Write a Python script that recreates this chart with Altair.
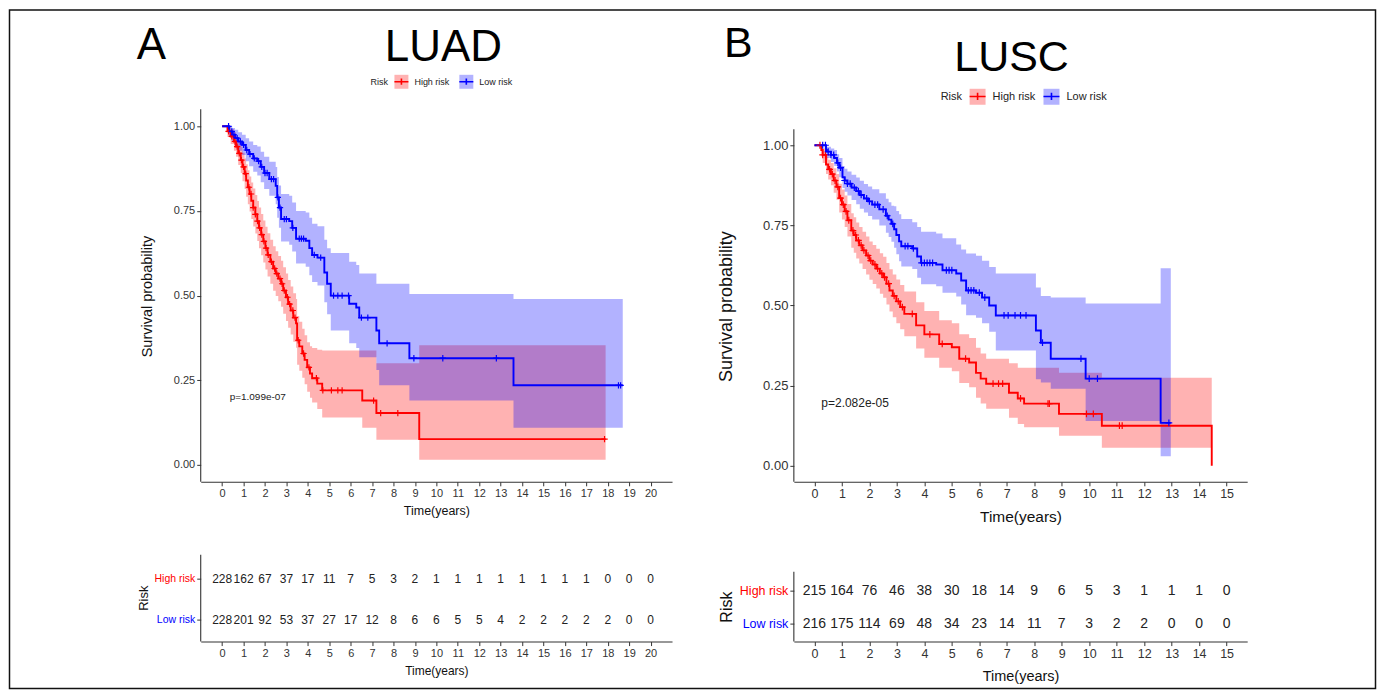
import altair as alt
import numpy as np
import pandas as pd

FONT = "Liberation Sans"
RED = "#FF0000"
BLUE = "#0000FF"
GROUPS = ["High risk", "Low risk"]
FILL_RANGE = ["rgba(255,0,0,0.3)", "rgba(0,0,255,0.3)"]
CROSS = "M-1,0H1M0,-1V1"
LEG_LINE = "M-1,0H1M0,-0.45V0.45"

# ---------------- LUAD ----------------
luad_high_t = [0, 0.25, 0.4, 0.55, 0.65, 0.75, 0.87, 0.95, 1.05, 1.12, 1.2, 1.28, 1.36, 1.45, 1.55,
               1.64, 1.72, 1.82, 1.92, 2.02, 2.12, 2.25, 2.38, 2.5, 2.62, 2.75, 2.85, 2.98, 3.08, 3.2,
               3.32, 3.45, 3.5, 3.6, 3.74, 3.85, 3.97, 4.1, 4.2, 4.44, 4.67, 6.54, 7.2, 9.2, 17.9]
luad_high_s = [1.0, 0.985, 0.97, 0.955, 0.94, 0.92, 0.9, 0.88, 0.86, 0.84, 0.82, 0.8, 0.78, 0.76, 0.74,
               0.72, 0.70, 0.68, 0.66, 0.64, 0.62, 0.60, 0.58, 0.565, 0.55, 0.535, 0.515, 0.495, 0.475, 0.456,
               0.435, 0.418, 0.368, 0.35, 0.329, 0.31, 0.288, 0.27, 0.256, 0.24, 0.22, 0.19, 0.153, 0.076, 0.076]
luad_high_lo = [1.0, 0.968, 0.948, 0.928, 0.91, 0.886, 0.862, 0.838, 0.815, 0.792, 0.77, 0.748, 0.726, 0.704, 0.683,
                0.661, 0.64, 0.619, 0.598, 0.577, 0.556, 0.535, 0.514, 0.499, 0.483, 0.467, 0.446, 0.425, 0.405, 0.385,
                0.364, 0.346, 0.296, 0.278, 0.257, 0.238, 0.216, 0.198, 0.184, 0.165, 0.14, 0.11, 0.074, 0.015, 0.015]
luad_high_hi = [1.0, 1.0, 0.992, 0.982, 0.97, 0.955, 0.94, 0.922, 0.905, 0.888, 0.87, 0.852, 0.834, 0.816, 0.797,
                0.779, 0.76, 0.741, 0.722, 0.703, 0.684, 0.665, 0.646, 0.631, 0.617, 0.603, 0.584, 0.565, 0.546, 0.527,
                0.507, 0.49, 0.44, 0.423, 0.402, 0.383, 0.362, 0.35, 0.345, 0.34, 0.338, 0.338, 0.30, 0.353, 0.353]
luad_high_cens = [0.3, 0.45, 0.6, 0.7, 0.8, 0.9, 1.0, 1.1, 1.25, 1.35, 1.45, 1.55, 1.65, 1.75, 1.85, 1.95,
                  2.05, 2.15, 2.3, 2.45, 2.55, 2.7, 2.8, 2.9, 3.05, 3.15, 3.3, 3.4, 3.55, 3.8, 4.05, 4.4,
                  4.7, 5.1, 5.4, 5.6, 7.07, 7.4, 8.2, 17.85]

luad_low_t = [0, 0.33, 0.47, 0.6, 0.75, 0.93, 1.1, 1.26, 1.45, 1.64, 1.8, 1.96, 2.2, 2.5, 2.57, 2.65, 2.75,
              3.13, 3.27, 3.45, 3.9, 4.07, 4.2, 4.45, 4.77, 4.9, 5.07, 5.93, 6.26, 6.4, 7.2, 7.33, 8.74, 13.6, 18.7]
luad_low_s = [1.0, 0.985, 0.975, 0.965, 0.955, 0.945, 0.93, 0.918, 0.905, 0.897, 0.88, 0.862, 0.844, 0.824, 0.79,
              0.76, 0.726, 0.72, 0.70, 0.668, 0.662, 0.64, 0.62, 0.612, 0.568, 0.535, 0.5, 0.476, 0.465, 0.435,
              0.397, 0.359, 0.315, 0.235, 0.235]
luad_low_lo = [1.0, 0.97, 0.955, 0.942, 0.928, 0.915, 0.897, 0.882, 0.866, 0.855, 0.835, 0.815, 0.795, 0.77, 0.73,
               0.70, 0.66, 0.65, 0.63, 0.595, 0.585, 0.56, 0.54, 0.53, 0.48, 0.445, 0.397, 0.359, 0.345, 0.318,
               0.28, 0.235, 0.19, 0.11, 0.11]
luad_low_hi = [1.0, 1.0, 0.995, 0.99, 0.982, 0.975, 0.965, 0.955, 0.945, 0.94, 0.925, 0.91, 0.895, 0.88, 0.85,
               0.825, 0.80, 0.795, 0.775, 0.75, 0.745, 0.73, 0.712, 0.705, 0.665, 0.64, 0.626, 0.60, 0.59, 0.565,
               0.535, 0.535, 0.505, 0.49, 0.49]
luad_low_cens = [0.3, 0.45, 0.55, 0.7, 0.85, 1.0, 1.15, 1.3, 1.5, 1.7, 1.85, 2.0, 2.1, 2.3, 2.4, 2.6, 2.7,
                 2.9, 3.0, 3.3, 3.6, 3.7, 3.8, 4.3, 4.6, 5.2, 5.4, 5.6, 5.9, 6.5, 6.8, 7.7, 8.95, 10.3,
                 12.8, 18.5, 18.6]

luad_years = list(range(0, 21))
luad_high_n = [228, 162, 67, 37, 17, 11, 7, 5, 3, 2, 1, 1, 1, 1, 1, 1, 1, 1, 0, 0, 0]
luad_low_n = [228, 201, 92, 53, 37, 27, 17, 12, 8, 6, 6, 5, 5, 4, 2, 2, 2, 2, 2, 0, 0]

# ---------------- LUSC ----------------
lusc_high_t = [0, 0.25, 0.3, 0.42, 0.5, 0.6, 0.7, 0.8, 0.9, 1.0, 1.1, 1.2, 1.34, 1.43, 1.52, 1.63, 1.75,
               1.88, 2.0, 2.12, 2.25, 2.38, 2.5, 2.62, 2.73, 2.85, 2.98, 3.12, 3.27, 3.7, 4.0, 4.54, 5.0,
               5.27, 5.63, 5.88, 6.05, 6.25, 7.08, 7.4, 7.63, 8.9, 10.46, 14.46]
lusc_high_s = [1.0, 0.985, 0.97, 0.94, 0.925, 0.91, 0.89, 0.87, 0.835, 0.815, 0.794, 0.766, 0.734, 0.72, 0.703,
               0.688, 0.672, 0.656, 0.64, 0.628, 0.615, 0.60, 0.588, 0.568, 0.547, 0.53, 0.513, 0.495, 0.474,
               0.438, 0.41, 0.38, 0.37, 0.334, 0.322, 0.29, 0.272, 0.256, 0.228, 0.21, 0.194, 0.162, 0.125, 0.0]
lusc_high_lo = [1.0, 0.965, 0.945, 0.91, 0.893, 0.875, 0.852, 0.83, 0.79, 0.768, 0.745, 0.715, 0.68, 0.665, 0.647,
                0.631, 0.614, 0.597, 0.58, 0.567, 0.553, 0.537, 0.524, 0.503, 0.481, 0.463, 0.445, 0.426, 0.404,
                0.366, 0.337, 0.306, 0.295, 0.258, 0.245, 0.212, 0.194, 0.178, 0.15, 0.13, 0.12, 0.094, 0.056, 0.056]
lusc_high_hi = [1.0, 1.0, 0.99, 0.965, 0.955, 0.945, 0.928, 0.91, 0.88, 0.862, 0.843, 0.817, 0.788, 0.775, 0.759,
                0.745, 0.73, 0.715, 0.70, 0.689, 0.677, 0.663, 0.652, 0.633, 0.613, 0.597, 0.581, 0.564, 0.544,
                0.51, 0.483, 0.454, 0.445, 0.41, 0.399, 0.368, 0.35, 0.334, 0.32, 0.306, 0.306, 0.29, 0.275, 0.275]
lusc_high_cens = [0.2, 0.3, 0.4, 0.55, 0.65, 0.75, 0.85, 0.95, 1.05, 1.15, 1.25, 1.4, 1.5, 1.6, 1.7, 1.8,
                  1.95, 2.05, 2.2, 2.3, 2.45, 2.55, 2.7, 2.9, 3.05, 3.2, 3.56, 4.2, 4.65, 5.5, 6.5, 6.7,
                  6.85, 7.5, 8.5, 8.55, 9.9, 10.15, 11.1, 11.2]

lusc_low_t = [0, 0.42, 0.45, 0.6, 0.72, 0.82, 0.9, 1.02, 1.1, 1.2, 1.35, 1.52, 1.65, 1.8, 1.95, 2.1, 2.36,
              2.6, 2.7, 2.8, 2.9, 2.98, 3.08, 3.16, 3.56, 3.74, 3.88, 4.43, 4.66, 5.16, 5.34, 5.52, 5.88,
              6.1, 6.36, 6.6, 8.06, 8.24, 8.6, 9.87, 12.6, 12.97]
lusc_low_s = [1.0, 0.985, 0.98, 0.97, 0.96, 0.945, 0.93, 0.9, 0.89, 0.88, 0.868, 0.857, 0.845, 0.834, 0.825,
              0.815, 0.8, 0.78, 0.768, 0.755, 0.738, 0.72, 0.70, 0.685, 0.678, 0.653, 0.633, 0.628, 0.61, 0.6,
              0.578, 0.547, 0.54, 0.525, 0.5, 0.469, 0.422, 0.384, 0.334, 0.272, 0.134, 0.134]
lusc_low_lo = [1.0, 0.965, 0.96, 0.948, 0.935, 0.918, 0.9, 0.867, 0.855, 0.843, 0.829, 0.816, 0.802, 0.79, 0.779,
               0.768, 0.75, 0.727, 0.714, 0.699, 0.68, 0.66, 0.638, 0.622, 0.614, 0.587, 0.566, 0.56, 0.54, 0.528,
               0.503, 0.47, 0.462, 0.445, 0.418, 0.36, 0.27, 0.26, 0.24, 0.14, 0.03, 0.03]
lusc_low_hi = [1.0, 1.0, 0.995, 0.99, 0.985, 0.972, 0.96, 0.935, 0.927, 0.918, 0.908, 0.899, 0.889, 0.879, 0.871,
               0.863, 0.85, 0.833, 0.822, 0.811, 0.81, 0.795, 0.785, 0.77, 0.76, 0.745, 0.73, 0.725, 0.71, 0.69,
               0.675, 0.662, 0.655, 0.64, 0.62, 0.60, 0.556, 0.53, 0.525, 0.506, 0.616, 0.616]
lusc_low_cens = [0.3, 0.4, 0.5, 0.6, 0.7, 0.85, 0.95, 1.1, 1.2, 1.3, 1.45, 1.6, 1.7, 1.9, 2.0, 2.2, 2.3,
                 2.5, 2.65, 2.85, 3.3, 3.4, 3.6, 3.9, 4.0, 4.1, 4.2, 4.3, 4.8, 4.9, 5.0, 5.6, 5.7, 5.8,
                 6.0, 6.2, 6.9, 7.05, 7.3, 7.5, 7.7, 8.3, 9.7, 10.0, 10.3, 12.9]

lusc_years = list(range(0, 16))
lusc_high_n = [215, 164, 76, 46, 38, 30, 18, 14, 9, 6, 5, 3, 1, 1, 1, 0]
lusc_low_n = [216, 175, 114, 69, 48, 34, 23, 14, 11, 7, 3, 2, 2, 0, 0, 0]


def curve_df(t, s, lo, hi, g):
    return pd.DataFrame({"time": t, "surv": s, "lower": lo, "upper": hi, "Risk": g, "Risk2": g})


def cens_df(t, s, c, g):
    t = np.asarray(t, float)
    s = np.asarray(s, float)
    c = np.asarray(c, float)
    idx = np.searchsorted(t, c, side="right") - 1
    return pd.DataFrame({"time": c, "surv": s[idx], "Risk2": g})


def km_panel(cfg):
    curves = pd.concat([
        curve_df(cfg["ht"], cfg["hs"], cfg["hlo"], cfg["hhi"], "High risk"),
        curve_df(cfg["lt"], cfg["ls"], cfg["llo"], cfg["lhi"], "Low risk"),
    ], ignore_index=True)
    cens = pd.concat([
        cens_df(cfg["ht"], cfg["hs"], cfg["hc"], "High risk"),
        cens_df(cfg["lt"], cfg["ls"], cfg["lc"], "Low risk"),
    ], ignore_index=True)
    w, h = cfg["w"], cfg["h"]
    fs = cfg["fs"]
    xs = alt.Scale(domain=cfg["xdom"], nice=False, zero=False)
    ys = alt.Scale(domain=cfg["ydom"], nice=False, zero=False)
    xaxis = alt.Axis(values=cfg["xticks"], title="Time(years)", labelFontSize=fs["tick"],
                     titleFontSize=fs["title"], titleX=w / 2, titleY=cfg["xtitle_y"],
                     titleBaseline="middle", titleAlign="center", labelFlush=False)
    yaxis = alt.Axis(values=[0, 0.25, 0.5, 0.75, 1.0], format=".2f", title="Survival probability",
                     labelFontSize=fs["ytick"], titleFontSize=fs["ytitle"], domain=False,
                     titleAngle=270, titleX=cfg["ytitle_x"], titleY=cfg["ytitle_y"],
                     titleBaseline="middle", titleAlign="center", labelFlush=False)

    def X(f):
        return alt.X(f"{f}:Q", scale=xs, axis=xaxis, title="Time(years)")

    def Y(f):
        return alt.Y(f"{f}:Q", scale=ys, axis=yaxis, title="Survival probability")

    common = dict(orient="none", legendX=cfg["legx"], legendY=cfg["legy"], direction="horizontal",
                  titleOrient="left", title="Risk", symbolSize=cfg["sym"] ** 2, symbolStrokeWidth=1.6,
                  labelFontSize=fs["leg"], titleFontSize=fs["leg"], titleFontWeight="normal",
                  labelOffset=cfg["legoff"], columnPadding=cfg["legpad"], titlePadding=cfg["legoff"],
                  padding=0, labelFont=FONT, titleFont=FONT, titleBaseline="middle", titleAnchor="middle")
    fill_leg = alt.Legend(symbolType="square", symbolStrokeColor="rgba(0,0,0,0)",
                          labelColor="#222", titleColor="#222", **common)
    stroke_leg = alt.Legend(symbolType=LEG_LINE, labelOpacity=0, titleOpacity=0, **common)

    base = alt.Chart(curves)
    area = base.mark_area(interpolate="step-after").encode(
        x=X("time"), y=Y("lower"), y2=alt.Y2("upper:Q"),
        fill=alt.Fill("Risk:N", scale=alt.Scale(domain=GROUPS, range=FILL_RANGE), legend=fill_leg),
    )
    # stroke scale keeps a data-driven domain so that its legend stays separate from the fill legend
    stroke = alt.Stroke("Risk2:N", scale=alt.Scale(range=[RED, BLUE]), legend=stroke_leg)
    line = base.mark_line(interpolate="step-after", strokeWidth=1.9).encode(
        x=X("time"), y=Y("surv"), stroke=stroke)
    pts = alt.Chart(cens).mark_point(shape=CROSS, filled=False, size=cfg["cross"], strokeWidth=1.2,
                                     opacity=1).encode(x=X("time"), y=Y("surv"), stroke=stroke)
    axis_line = alt.Chart(pd.DataFrame({"time": [cfg["xdom"][0]], "y0": [cfg["ydom"][0]],
                                        "y1": [1.05]})).mark_rule(color="#333", strokeWidth=1.1).encode(
        x=X("time"), y=Y("y0"), y2=alt.Y2("y1:Q"))
    pval = alt.Chart(pd.DataFrame({"time": [cfg["px"]], "surv": [cfg["py"]], "lab": [cfg["ptext"]]})).mark_text(
        align="left", baseline="middle", font=FONT, fontSize=fs["p"], color="#222").encode(
        x=X("time"), y=Y("surv"), text="lab:N")
    letter = alt.Chart(pd.DataFrame({"lab": [cfg["letter"]]})).mark_text(
        align="left", baseline="alphabetic", font=FONT, fontSize=cfg["letter_fs"], color="black").encode(
        text="lab:N", x=alt.value(cfg["letter_x"]), y=alt.value(cfg["letter_y"]))
    title = alt.Chart(pd.DataFrame({"lab": [cfg["title"]]})).mark_text(
        align="center", baseline="alphabetic", font=FONT, fontSize=cfg["title_fs"], color="black").encode(
        text="lab:N", x=alt.value(cfg["title_x"]), y=alt.value(cfg["title_y"]))
    layers = [area, line, pts, axis_line, pval, letter, title]
    if cfg.get("frame"):
        fx0, fx1, fy0, fy1 = cfg["frame"]
        frame = alt.Chart(pd.DataFrame({"k": [0]})).mark_rect(
            filled=False, stroke="#111", strokeWidth=1.5).encode(
            x=alt.value(fx0), x2=alt.value(fx1), y=alt.value(fy0), y2=alt.value(fy1))
        layers.append(frame)
    return alt.layer(*layers).properties(width=w, height=h)


def table_panel(cfg):
    years = cfg["years"]
    tdf = pd.DataFrame({"time": years + years,
                        "row": [2] * len(years) + [1] * len(years),
                        "n": cfg["hn"] + cfg["ln"]})
    w, h = cfg["w"], cfg["h"]
    fs = cfg["fs"]
    xs = alt.Scale(domain=cfg["xdom"], nice=False, zero=False)
    ys = alt.Scale(domain=cfg["ydom"], nice=False, zero=False)
    xaxis = alt.Axis(values=years, title="Time(years)", labelFontSize=fs["tick"], titleFontSize=fs["title"],
                     titleX=w / 2, titleY=cfg["xtitle_y"], titleBaseline="middle", titleAlign="center",
                     labelFlush=False)
    yaxis = alt.Axis(values=[1, 2], labelExpr="datum.value == 2 ? 'High risk' : 'Low risk'",
                     labelColor={"condition": {"test": "datum.value == 2", "value": RED}, "value": BLUE},
                     labelFontSize=fs["ylab"], title="Risk", titleFontSize=fs["rtitle"], domain=False,
                     titleAngle=270, titleX=cfg["ytitle_x"], titleY=cfg["ytitle_y"],
                     titleBaseline="middle", titleAlign="center", labelFlush=False)

    def X(f):
        return alt.X(f"{f}:Q", scale=xs, axis=xaxis, title="Time(years)")

    def Y(f):
        return alt.Y(f"{f}:Q", scale=ys, axis=yaxis, title="Risk")

    txt = alt.Chart(tdf).mark_text(font=FONT, fontSize=fs["num"], color="#222", baseline="middle").encode(
        x=X("time"), y=Y("row"), text="n:Q")
    axis_line = alt.Chart(pd.DataFrame({"time": [cfg["xdom"][0]], "y0": [cfg["ydom"][0]],
                                        "y1": [cfg["ytop"]]})).mark_rule(color="#333", strokeWidth=1.1).encode(
        x=X("time"), y=Y("y0"), y2=alt.Y2("y1:Q"))
    return alt.layer(txt, axis_line).properties(width=w, height=h)


KM_H = 373
TAB_H = 87

km_left = km_panel(dict(
    ht=luad_high_t, hs=luad_high_s, hlo=luad_high_lo, hhi=luad_high_hi, hc=luad_high_cens,
    lt=luad_low_t, ls=luad_low_s, llo=luad_low_lo, lhi=luad_low_hi, lc=luad_low_cens,
    w=472, h=KM_H, xdom=[-1, 21], ydom=[-0.05, 1.05], xticks=list(range(0, 21)),
    fs=dict(tick=11, ytick=11, title=12.5, ytitle=14.5, leg=9, p=10),
    xtitle_y=29, ytitle_x=-53, ytitle_y=187,
    legx=170, legy=-36, sym=14, legoff=5, legpad=5, cross=40,
    px=0.35, py=0.2, ptext="p=1.099e-07",
    letter="A", letter_fs=44, letter_x=-64, letter_y=-50,
    title="LUAD", title_fs=44, title_x=243, title_y=-48,
    frame=(-191.5, 1176.5, -99.5, 580),
))

km_right = km_panel(dict(
    ht=lusc_high_t, hs=lusc_high_s, hlo=lusc_high_lo, hhi=lusc_high_hi, hc=lusc_high_cens,
    lt=lusc_low_t, ls=lusc_low_s, llo=lusc_low_lo, lhi=lusc_low_hi, lc=lusc_low_cens,
    w=454, h=KM_H, xdom=[-0.75, 15.75], ydom=[-0.05, 1.112], xticks=list(range(0, 16)),
    fs=dict(tick=12.5, ytick=13, title=15.5, ytitle=18, leg=11, p=12),
    xtitle_y=35, ytitle_x=-67, ytitle_y=197,
    legx=147, legy=-22, sym=16, legoff=6, legpad=4, cross=46,
    px=0.25, py=0.196, ptext="p=2.082e-05",
    letter="B", letter_fs=43, letter_x=-70, letter_y=-52,
    title="LUSC", title_fs=43, title_x=218, title_y=-38,
))

tab_left = table_panel(dict(
    years=luad_years, hn=luad_high_n, ln=luad_low_n, w=472, h=TAB_H,
    xdom=[-1, 21], ydom=[0.463, 2.585], ytop=2.585,
    fs=dict(tick=11, title=12, ylab=10.5, rtitle=13, num=12),
    xtitle_y=29, ytitle_x=-57, ytitle_y=43,
))

tab_right = table_panel(dict(
    years=lusc_years, hn=lusc_high_n, ln=lusc_low_n, w=454, h=TAB_H,
    xdom=[-0.75, 15.75], ydom=[0.4545, 3.0909], ytop=2.5758,
    fs=dict(tick=12.5, title=14.5, ylab=12.5, rtitle=16, num=14),
    xtitle_y=35, ytitle_x=-67, ytitle_y=52,
))

chart = alt.concat(
    km_left, km_right, tab_left, tab_right,
    columns=2, spacing={"row": 73, "column": 122}, bounds="flush", align="each",
).resolve_scale(
    x="independent", y="independent", fill="independent", stroke="independent"
).properties(
    padding={"left": 0, "top": 0, "right": 0, "bottom": 0},
    background="white",
).configure_view(
    stroke=None
).configure_axis(
    grid=False, labelFont=FONT, titleFont=FONT, titleFontWeight="normal",
    labelColor="#333", titleColor="#111", tickColor="#333", domainColor="#333",
    tickSize=4, domainWidth=1.1, tickWidth=1, labelPadding=2,
)

chart.save("out.html", embed_options={"renderer": "svg", "actions": False})
